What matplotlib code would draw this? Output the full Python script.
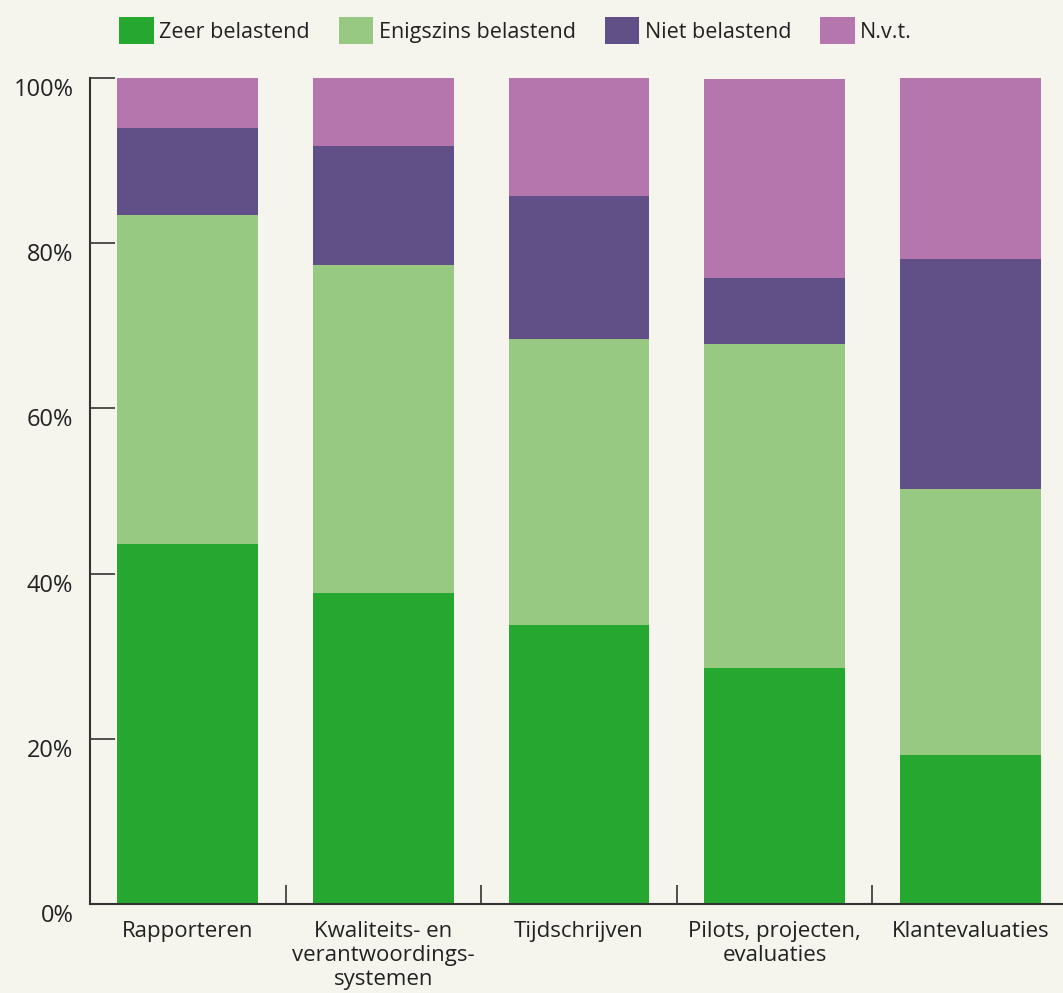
import matplotlib.pyplot as plt
import matplotlib.transforms as mtransforms
import numpy as np
from matplotlib.ticker import FixedLocator, PercentFormatter

plt.rcParams['font.family'] = ['Open Sans', 'DejaVu Sans']

categories = ['Rapporteren', 'Kwaliteits- en\nverantwoordings-\nsystemen', 'Tijdschrijven',
              'Pilots, projecten,\nevaluaties', 'Klantevaluaties']
zeer = [43.6, 37.7, 33.8, 28.6, 18.0]
enigszins = [39.8, 39.7, 34.6, 39.2, 32.2]
niet = [10.5, 14.4, 17.3, 8.0, 27.9]
nvt = [6.1, 8.2, 14.4, 24.1, 21.9]

labels = ['Zeer belastend', 'Enigszins belastend', 'Niet belastend', 'N.v.t.']
colors = ['#26a830', '#98c983', '#614f87', '#b576ae']
bg = '#f5f5ee'
ink = '#222222'

fig = plt.figure(figsize=(10.63, 9.93), dpi=100, facecolor=bg)
ax = fig.add_axes([90 / 1063, 1 - 904 / 993, (1068 - 90) / 1063, (904 - 78) / 993])
ax.set_facecolor(bg)

x = np.arange(len(categories))
bottom = np.zeros(len(categories))
for vals, lab, col in zip([zeer, enigszins, niet, nvt], labels, colors):
    ax.bar(x, vals, 0.72, bottom=bottom, color=col, label=lab, zorder=2)
    bottom += np.array(vals)

ax.set_xlim(-0.5, 4.5)
ax.set_ylim(0, 100)
ax.set_yticks([0, 20, 40, 60, 80, 100])
ax.yaxis.set_major_formatter(PercentFormatter(decimals=0))
ax.set_xticks(x)
ax.set_xticklabels(categories, fontsize=16, color=ink, linespacing=1.2)
ax.xaxis.set_minor_locator(FixedLocator(np.arange(-0.5, 5, 1)))

ax.tick_params(axis='y', direction='in', length=18, width=1.2, color='#333333',
               labelsize=17, labelcolor=ink, pad=12)
ax.tick_params(axis='x', which='major', length=0, pad=12)
ax.tick_params(axis='x', which='minor', direction='in', length=14, width=1.2, color='#333333')

# percentages sit a little below their tick
shift = mtransforms.ScaledTranslation(0, -9 / 100, fig.dpi_scale_trans)
for lbl in ax.get_yticklabels():
    lbl.set_transform(lbl.get_transform() + shift)

for s in ['top', 'right']:
    ax.spines[s].set_visible(False)
for s in ['left', 'bottom']:
    ax.spines[s].set_color('#333333')
    ax.spines[s].set_linewidth(1.5)
    ax.spines[s].set_zorder(3)

fig.legend(loc='upper left', bbox_to_anchor=(100 / 1063, 1 + 2 / 993), ncol=4, frameon=False,
           fontsize=15.5, handlelength=1.6, handleheight=1.5, handletextpad=0.25,
           columnspacing=1.35, labelcolor=ink)

fig.savefig('out.png', dpi=100, facecolor=bg)
